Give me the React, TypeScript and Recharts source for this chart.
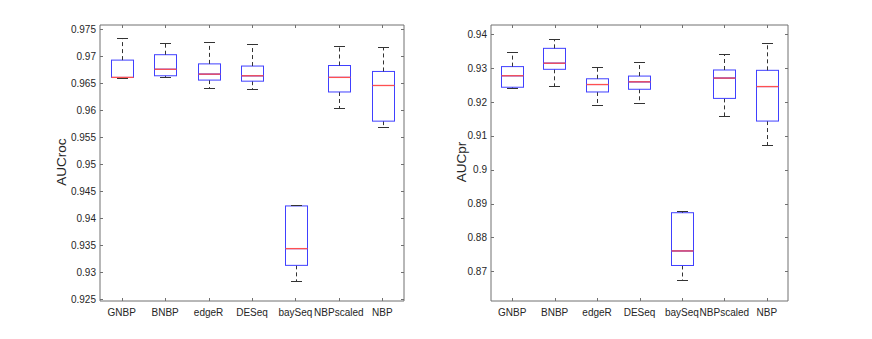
import React from 'react';
import { Bar, ComposedChart, XAxis, YAxis } from 'recharts';

const methods = ['GNBP', 'BNBP', 'edgeR', 'DESeq', 'baySeq', 'NBPscaled', 'NBP'];

// AUCroc box stats (min, q1, median, q3, max)
const rocMin = [0.966, 0.9661, 0.9641, 0.964, 0.9284, 0.9604, 0.957];
const rocQ1 = [0.9661, 0.9664, 0.9656, 0.9654, 0.9313, 0.9634, 0.958];
const rocMed = [0.9661, 0.9676, 0.9667, 0.9664, 0.9344, 0.9661, 0.9646];
const rocQ3 = [0.9693, 0.9703, 0.9686, 0.9682, 0.9423, 0.9683, 0.9672];
const rocMax = [0.9734, 0.9724, 0.9726, 0.9722, 0.9424, 0.9719, 0.9717];
const rocTicks = [0.925, 0.93, 0.935, 0.94, 0.945, 0.95, 0.955, 0.96, 0.965, 0.97, 0.975];

// AUCpr box stats
const prMin = [0.9241, 0.9249, 0.9191, 0.9198, 0.8674, 0.9159, 0.9072];
const prQ1 = [0.9244, 0.9297, 0.923, 0.9238, 0.8717, 0.9211, 0.9144];
const prMed = [0.9278, 0.9315, 0.9252, 0.926, 0.876, 0.9271, 0.9246];
const prQ3 = [0.9305, 0.9359, 0.9269, 0.9277, 0.8873, 0.9295, 0.9294];
const prMax = [0.9347, 0.9388, 0.9303, 0.9318, 0.8878, 0.9343, 0.9375];
const prTicks = [0.87, 0.88, 0.89, 0.9, 0.91, 0.92, 0.93, 0.94];

const FONT = '"Liberation Sans", Arial, Helvetica, sans-serif';
const AXIS = '#707070';
const TEXT = '#262626';
const BLUE = '#4040ff';
const RED = '#ff5050';
const WHISK = '#333333';

const px = (v: number) => Math.round(v) + 0.5;

const Hidden = () => <g />;

const LowWhisker = (p: any) => {
  const cx = px(p.x + p.width / 2);
  const yb = px(p.y + p.height);
  return (
    <g>
      <line x1={cx} x2={cx} y1={p.y} y2={yb} stroke={WHISK} strokeDasharray="4 3" />
      <line x1={cx - p.width / 4} x2={cx + p.width / 4} y1={yb} y2={yb} stroke={WHISK} />
    </g>
  );
};

const HighWhisker = (p: any) => {
  const cx = px(p.x + p.width / 2);
  const yt = px(p.y);
  return (
    <g>
      <line x1={cx} x2={cx} y1={p.y + p.height} y2={yt} stroke={WHISK} strokeDasharray="4 3" />
      <line x1={cx - p.width / 4} x2={cx + p.width / 4} y1={yt} y2={yt} stroke={WHISK} />
    </g>
  );
};

const LowBox = (p: any) => (
  <rect x={px(p.x)} y={p.y} width={Math.round(p.width)} height={Math.max(p.height, 0)} fill="none" stroke={BLUE} />
);

const HighBox = (p: any) => (
  <g>
    <rect x={px(p.x)} y={p.y} width={Math.round(p.width)} height={Math.max(p.height, 0)} fill="none" stroke={BLUE} />
    <line x1={px(p.x)} x2={px(p.x) + Math.round(p.width)} y1={p.y + p.height} y2={p.y + p.height} stroke={RED} strokeWidth={1.3} />
  </g>
);

const BottomTick = (p: any) => (
  <g>
    <line x1={px(p.x)} x2={px(p.x)} y1={p.y} y2={p.y - 3} stroke={AXIS} />
    <text x={p.x} y={p.y + 15} textAnchor="middle" fontSize={10} fontFamily={FONT} fill={TEXT}>
      {p.payload.value}
    </text>
  </g>
);

const TopTick = (p: any) => <line x1={px(p.x)} x2={px(p.x)} y1={p.y} y2={p.y + 3} stroke={AXIS} />;

const LeftTick = (p: any) => (
  <g>
    <line x1={p.x} x2={p.x + 3} y1={px(p.y)} y2={px(p.y)} stroke={AXIS} />
    <text x={p.x - 4} y={p.y + 3.5} textAnchor="end" fontSize={10} fontFamily={FONT} fill={TEXT}>
      {String(p.payload.value)}
    </text>
  </g>
);

const RightTick = (p: any) => <line x1={p.x} x2={p.x - 3} y1={px(p.y)} y2={px(p.y)} stroke={AXIS} />;

interface PanelProps {
  left: number;
  mins: number[];
  q1s: number[];
  meds: number[];
  q3s: number[];
  maxs: number[];
  domain: [number, number];
  ticks: number[];
  label: string;
  labelX: number;
  margin: { top: number; right: number; bottom: number; left: number };
}

const BoxPanel = ({ left, mins, q1s, meds, q3s, maxs, domain, ticks, label, labelX, margin }: PanelProps) => {
  const data = methods.map((name, i) => ({
    name,
    base: mins[i],
    lowW: q1s[i] - mins[i],
    lowBox: meds[i] - q1s[i],
    highBox: q3s[i] - meds[i],
    highW: maxs[i] - q3s[i],
  }));
  return (
    <div style={{ position: 'absolute', left, top: 0, width: 436, height: 339 }}>
      <ComposedChart width={436} height={339} data={data} margin={margin}>
        <XAxis xAxisId="b" dataKey="name" height={1} tickSize={0} tickMargin={0} tickLine={false} interval={0}
          axisLine={{ stroke: AXIS }} tick={(p: any) => <BottomTick {...p} />} />
        <XAxis xAxisId="t" orientation="top" dataKey="name" height={1} tickSize={0} tickMargin={0} tickLine={false} interval={0}
          axisLine={{ stroke: AXIS }} tick={(p: any) => <TopTick {...p} />} />
        <YAxis yAxisId="l" type="number" width={1} domain={domain} ticks={ticks} allowDataOverflow tickSize={0} tickMargin={0}
          tickLine={false} axisLine={{ stroke: AXIS }} tick={(p: any) => <LeftTick {...p} />} />
        <YAxis yAxisId="r" orientation="right" type="number" width={1} domain={domain} ticks={ticks} allowDataOverflow tickSize={0}
          tickMargin={0} tickLine={false} axisLine={{ stroke: AXIS }} tick={(p: any) => <RightTick {...p} />} />
        <Bar xAxisId="b" yAxisId="l" dataKey="base" stackId="s" barSize={22} shape={<Hidden />} isAnimationActive={false} />
        <Bar xAxisId="b" yAxisId="l" dataKey="lowW" stackId="s" barSize={22} shape={(p: any) => <LowWhisker {...p} />} isAnimationActive={false} />
        <Bar xAxisId="b" yAxisId="l" dataKey="lowBox" stackId="s" barSize={22} shape={(p: any) => <LowBox {...p} />} isAnimationActive={false} />
        <Bar xAxisId="b" yAxisId="l" dataKey="highBox" stackId="s" barSize={22} shape={(p: any) => <HighBox {...p} />} isAnimationActive={false} />
        <Bar xAxisId="b" yAxisId="l" dataKey="highW" stackId="s" barSize={22} shape={(p: any) => <HighWhisker {...p} />} isAnimationActive={false} />
      </ComposedChart>
      <div
        style={{
          position: 'absolute',
          left: labelX,
          top: 162,
          transform: 'translate(-50%, -50%) rotate(-90deg)',
          fontSize: 13.5,
          fontFamily: FONT,
          color: TEXT,
          whiteSpace: 'nowrap',
        }}
      >
        {label}
      </div>
    </div>
  );
};

export default function App() {
  return (
    <div style={{ position: 'absolute', left: 0, top: 0, width: 872, height: 339, background: '#fff' }}>
      <BoxPanel left={0} mins={rocMin} q1s={rocQ1} meds={rocMed} q3s={rocQ3} maxs={rocMax}
        domain={[0.9247, 0.9758]} ticks={rocTicks} label="AUCroc" labelX={61}
        margin={{ top: 24, right: 31, bottom: 37, left: 99 }} />
      <BoxPanel left={436} mins={prMin} q1s={prQ1} meds={prMed} q3s={prQ3} maxs={prMax}
        domain={[0.8612, 0.9428]} ticks={prTicks} label="AUCpr" labelX={25}
        margin={{ top: 24, right: 83, bottom: 37, left: 54 }} />
    </div>
  );
}
